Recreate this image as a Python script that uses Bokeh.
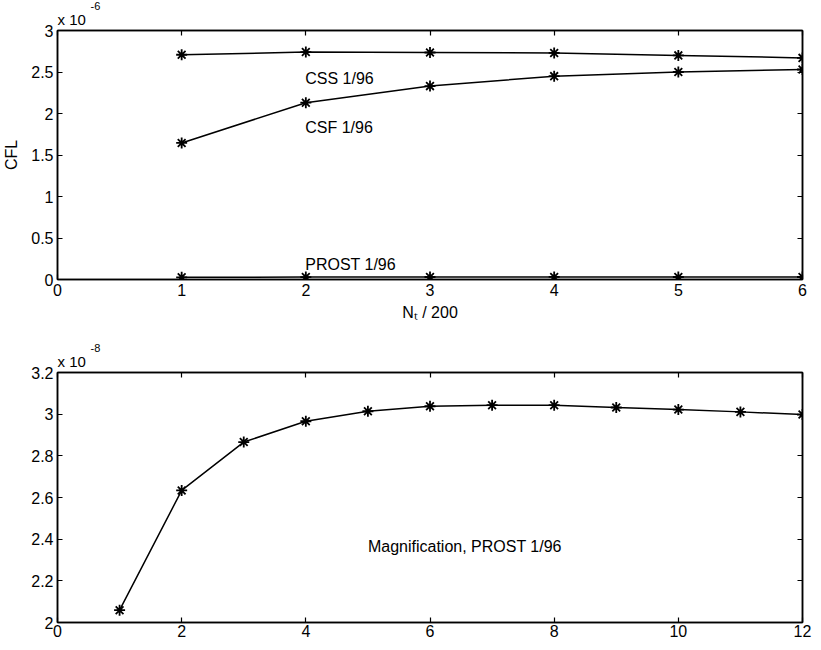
from bokeh.plotting import figure
from bokeh.layouts import column
from bokeh.models import LinearAxis, FixedTicker, Label, Title
from bokeh.embed import file_html
from bokeh.resources import INLINE

# ---- data (top panel, values in units of 1e-6) ----
nt_top = [1, 2, 3, 4, 5, 6]
css = [2.708, 2.74, 2.735, 2.73, 2.70, 2.67]
csf = [1.645, 2.13, 2.33, 2.45, 2.50, 2.53]
prost_top = [0.02634, 0.02966, 0.03038, 0.03043, 0.03022, 0.02998]

# ---- data (bottom panel, values in units of 1e-8) ----
nt_bot = [1, 2, 3, 4, 5, 6, 7, 8, 9, 10, 11, 12]
prost_bot = [2.059, 2.634, 2.866, 2.966, 3.014, 3.038, 3.043, 3.043, 3.032, 3.022, 3.011, 2.998]

top_xticks = [0, 1, 2, 3, 4, 5, 6]
top_yticks = [0, 0.5, 1, 1.5, 2, 2.5, 3]
bot_xticks = [0, 2, 4, 6, 8, 10, 12]
bot_yticks = [2, 2.2, 2.4, 2.6, 2.8, 3, 3.2]

FONT = "Liberation Sans"


def fmt(ticks):
    return {float(t): f"{t:g}" for t in ticks}


def style(p, xt, yt):
    p.grid.visible = False
    p.outline_line_color = "black"
    p.outline_line_width = 1.5
    for ax in p.below + p.left:
        ax.major_tick_in = 5
        ax.major_tick_out = 0
        ax.minor_tick_line_color = None
        ax.axis_line_width = 1.5
        ax.major_tick_line_width = 1.2
        ax.major_label_text_font = FONT
        ax.major_label_text_font_size = "16px"
        ax.major_label_text_color = "black"
        ax.axis_label_text_font = FONT
        ax.axis_label_text_font_style = "normal"
        ax.axis_label_text_font_size = "16px"
        ax.axis_label_text_color = "black"
    p.below[0].ticker = FixedTicker(ticks=xt)
    p.left[0].ticker = FixedTicker(ticks=yt)
    p.below[0].major_label_overrides = fmt(xt)
    p.left[0].major_label_overrides = fmt(yt)
    p.below[0].major_label_standoff = 4
    p.left[0].major_label_standoff = 4
    # box ticks on top and right (no labels)
    for ticks, side in ((xt, "above"), (yt, "right")):
        ax = LinearAxis(ticker=FixedTicker(ticks=ticks), major_tick_in=5, major_tick_out=0,
                        minor_tick_line_color=None, major_label_text_font_size="1px",
                        major_label_text_color=None, major_label_standoff=0,
                        axis_line_width=1.5, major_tick_line_width=1.2)
        p.add_layout(ax, side)


def lbl(p, x, y, text, size="16px"):
    p.add_layout(Label(x=x, y=y, text=text, text_font=FONT, text_font_size=size,
                       text_color="black", text_baseline="alphabetic"))


def scale_titles(p, exp, offset):
    p.add_layout(Title(text="x 10", align="left", offset=0, text_font=FONT,
                       text_font_size="15px", text_font_style="normal", standoff=6,
                       text_color="black"), "above")
    p.add_layout(Title(text=exp, align="left", offset=offset, text_font=FONT,
                       text_font_size="11px", text_font_style="normal", standoff=-9,
                       text_color="black"), "above")


# ---- top figure ----
p1 = figure(width=813, height=338, x_range=(0, 6), y_range=(0, 3),
            output_backend="svg", toolbar_location=None,
            min_border_left=48, min_border_right=11, min_border_top=30, min_border_bottom=59)
style(p1, top_xticks, top_yticks)
p1.below[0].axis_label = "Nₜ / 200"
p1.below[0].axis_label_standoff = 5
p1.left[0].axis_label = "CFL"
p1.left[0].axis_label_standoff = 8

for ys in (css, csf, prost_top):
    p1.line(nt_top, ys, line_color="black", line_width=1.5)
    p1.scatter(nt_top, ys, marker="asterisk", size=11, line_color="black", line_width=1.8)

lbl(p1, 1.995, 2.427, "CSS 1/96")
lbl(p1, 1.995, 1.833, "CSF 1/96")
lbl(p1, 1.995, 0.18, "PROST 1/96")
scale_titles(p1, "-6", 33)

# ---- bottom figure ----
p2 = figure(width=813, height=303, x_range=(0, 12), y_range=(2, 3.2),
            output_backend="svg", toolbar_location=None,
            min_border_left=48, min_border_right=11, min_border_top=34, min_border_bottom=19)
style(p2, bot_xticks, bot_yticks)
p2.below[0].major_label_standoff = 2

p2.line(nt_bot, prost_bot, line_color="black", line_width=1.5)
p2.scatter(nt_bot, prost_bot, marker="asterisk", size=11, line_color="black", line_width=1.8)

lbl(p2, 5.0, 2.366, "Magnification, PROST 1/96")
scale_titles(p2, "-8", 33)

layout = column(p1, p2, spacing=0)
open("out.html", "w").write(file_html(layout, INLINE))
